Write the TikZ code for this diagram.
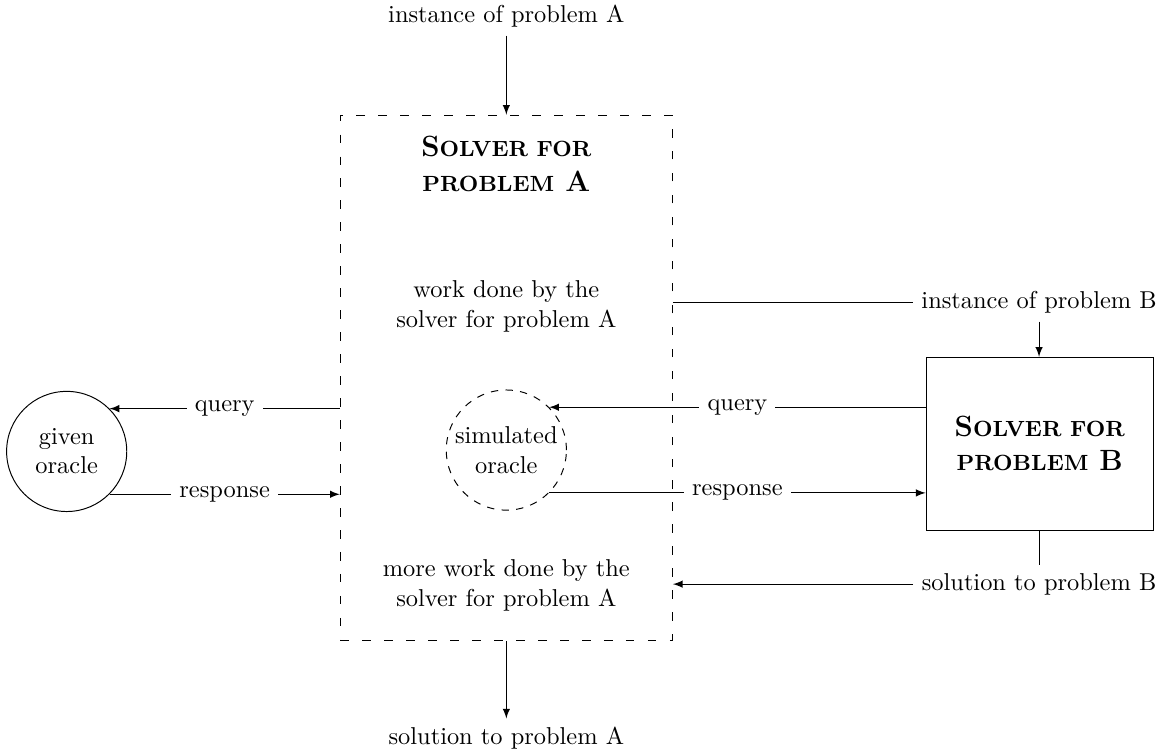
\documentclass[tikz,border=0pt]{standalone}
\usetikzlibrary{arrows.meta}

\begin{document}
\begin{tikzpicture}[>=latex,
    dashbox/.style={draw, dash pattern=on 3.5pt off 5.5pt},
    oracle/.style={draw, circle, align=center, minimum size=1.73cm, inner sep=0pt},
    solvertitle/.style={align=center, font=\large\bfseries},
    twoline/.style={align=center},
    lbl/.style={fill=white}]
  \useasboundingbox (0,0) rectangle (16.73,10.83);
  % solver for problem A
  \node (instA) at (7.29,10.60) {instance of problem A};
  \node[dashbox, minimum width=4.78cm, minimum height=7.56cm] (solverA) at (7.29,5.39) {};
  \node[solvertitle] (titleA) at (7.29,8.47) {S{\small OLVER FOR}\\{\small PROBLEM} A};
  \node[twoline] (workA) at (7.29,6.42) {work done by the\\solver for problem A};
  \node[twoline] (moreA) at (7.29,2.40) {more work done by the\\solver for problem A};
  \node (solA) at (7.29,0.20) {solution to problem A};
  % oracles
  \node[oracle] (given) at (0.96,4.33) {given\\oracle};
  \node[oracle, dashed] (sim) at (7.29,4.35) {simulated\\oracle};
  % solver for problem B
  \node[draw, solvertitle, minimum width=3.27cm, minimum height=2.49cm] (solverB) at (14.97,4.44) {S{\small OLVER FOR}\\{\small PROBLEM} B};
  \node (instB) at (14.96,6.48) {instance of problem B};
  \node (solB) at (14.96,2.42) {solution to problem B};

  \draw[->] (instA) -- (solverA.north);
  \draw[->] (solverA.south) -- (solA);
  \draw (solverA.east |- instB) -- (instB);
  \draw[->] (instB) -- (instB |- solverB.north);
  \draw (solverB.south -| solB) -- (solB);
  \draw[->] (solB) -- (solverA.east |- solB);
  \draw[->] (solverA.west |- given.north east) -- node[lbl] {query} (given.north east);
  \draw[->] (given.south east) -- node[lbl] {response} (solverA.west |- given.south east);
  \draw[->] (solverB.west |- sim.north east) -- node[lbl] {query} (sim.north east);
  \draw[->] (sim.south east) -- node[lbl] {response} (solverB.west |- sim.south east);
\end{tikzpicture}
\end{document}
